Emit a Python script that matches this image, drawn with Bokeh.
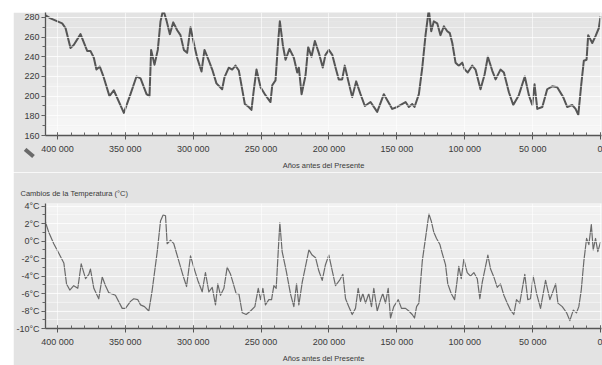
from bokeh.plotting import figure
from bokeh.layouts import column, row
from bokeh.models import Range1d, FixedTicker, BoxAnnotation, Arrow, NormalHead, Title, Spacer
from bokeh.embed import file_html
from bokeh.resources import INLINE

# ---------------- data ----------------
co2_years = [408800, 405100, 396500, 394000, 390400, 388000, 383000, 378100, 375700, 373200,
             371300, 368800, 365900, 361700, 358500, 351100, 346200, 341800, 338800, 334400,
             332200, 331000, 328500, 326100, 324100, 322100, 319700, 317200, 314700, 311800,
             309400, 306900, 304500, 302000, 299600, 297100, 293900, 291700, 288500, 286000,
             282900, 278700, 277000, 273800, 271300, 268900, 266400, 262000, 259100, 257100,
             255400, 253400, 250400, 246800, 243100, 241800, 239400, 237400, 236200, 234000,
             232000, 229100, 225900, 223400, 222200, 220200, 217300, 215300, 212900, 210400,
             207500, 204600, 202600, 200100, 197600, 195200, 192800, 190300, 188400, 185900,
             182900, 180000, 176800, 173600, 169400, 164500, 159600, 153400, 149800, 143600,
             141200, 138700, 137000, 133800, 131300, 128900, 126500, 124700, 122800, 120300,
             117900, 115400, 112900, 111000, 109200, 106800, 104400, 101900, 100000, 97800,
             94500, 92100, 88400, 85400, 83000, 79800, 77300, 73700, 71200, 67500,
             64300, 60200, 55800, 52800, 50300, 48600, 46600, 42900, 39300, 35600,
             31900, 27500, 24600, 20900, 18400, 16400, 14200, 12300, 10300, 9100,
             6100, 3700, 1300, 0]
co2_ppm = [282, 279, 274, 269, 249, 252, 263, 246, 246, 239,
           227, 230, 219, 200, 206, 183, 202, 220, 218, 202,
           200, 247, 232, 247, 276, 288, 277, 263, 275, 267,
           262, 247, 244, 270, 254, 239, 225, 247, 236, 227,
           213, 207, 219, 229, 227, 231, 226, 192, 189, 186,
           206, 227, 209, 201, 194, 211, 216, 256, 276, 252,
           237, 248, 239, 224, 229, 202, 221, 250, 240, 256,
           244, 229, 242, 247, 242, 229, 217, 217, 231, 216,
           199, 215, 202, 190, 194, 184, 202, 187, 189, 194,
           189, 192, 189, 202, 229, 262, 288, 266, 276, 274,
           262, 271, 266, 264, 254, 234, 231, 234, 227, 224,
           231, 227, 207, 222, 240, 226, 217, 227, 224, 204,
           191, 201, 220, 201, 191, 212, 187, 189, 207, 210,
           209, 199, 189, 191, 187, 181, 212, 236, 237, 262,
           254, 261, 269, 281]

temp_years = [408800, 406400, 402700, 399000, 395300, 393300, 390900, 388000, 385000, 382500,
              379300, 376900, 375700, 373200, 369600, 367000, 364600, 362200, 357300, 352300,
              349900, 346200, 343800, 340800, 338800, 335900, 332700, 330200, 326500, 324100,
              322100, 320400, 319200, 316700, 314300, 310600, 307400, 304900, 302000, 299600,
              296600, 293400, 291000, 288500, 286000, 283600, 281900, 279900, 277400, 275000,
              272500, 270800, 268400, 266400, 263900, 261000, 257800, 254600, 252100, 250400,
              248700, 246800, 244300, 242300, 240600, 238900, 237400, 236200, 234500, 231500,
              228400, 225900, 223900, 222200, 219700, 217300, 214800, 212400, 209900, 207500,
              205000, 202600, 200100, 197600, 195200, 192300, 189800, 187800, 185400, 182900,
              180500, 178500, 176800, 175100, 173100, 170700, 168700, 167000, 164500, 162000,
              160400, 158400, 156400, 154700, 152300, 149000, 146600, 143600, 141200, 138700,
              137000, 135500, 133800, 131300, 129600, 127600, 126400, 124700, 122800, 120800,
              118300, 116600, 114200, 112500, 110000, 107500, 105600, 104400, 102600, 100700,
              98200, 95800, 93300, 90800, 88900, 87100, 84700, 83000, 81000, 78600,
              76100, 73700, 71200, 68700, 66300, 63900, 61900, 59500, 55800, 53600,
              51600, 49600, 47100, 44200, 40500, 37300, 35600, 33100, 31400, 28200,
              25000, 22600, 20100, 17700, 16000, 14200, 12300, 10300, 8600, 6800,
              5400, 3700, 2000, 0]
temp_deg = [2.15, 1.0, -0.3, -1.4, -2.5, -4.9, -5.6, -5.1, -5.4, -2.6,
            -4.3, -3.8, -3.2, -5.4, -6.6, -4.1, -5.1, -5.9, -6.2, -7.7,
            -7.7, -6.9, -6.6, -6.7, -7.3, -7.5, -8.0, -5.6, -1.2, 2.3,
            3.0, 2.9, -0.3, 0.1, -0.3, -2.3, -4.0, -5.2, -1.7, -3.0,
            -4.5, -5.8, -3.6, -5.8, -5.3, -7.3, -4.9, -6.2, -5.4, -3.0,
            -3.8, -4.7, -6.0, -6.0, -8.2, -8.4, -8.0, -7.5, -5.4, -6.7,
            -5.4, -7.3, -6.7, -6.7, -5.1, -5.4, -1.2, 2.1, -1.2, -3.4,
            -6.0, -7.5, -4.9, -7.3, -4.7, -2.9, -1.0, -1.6, -1.9, -3.4,
            -4.5, -2.7, -1.6, -3.4, -5.1, -4.5, -3.8, -6.6, -7.5, -8.4,
            -7.7, -5.4, -6.9, -6.0, -7.1, -6.0, -7.5, -5.4, -8.0, -6.7,
            -6.0, -7.1, -5.4, -8.8, -7.5, -6.7, -7.7, -7.7, -8.0, -8.4,
            -8.8, -7.5, -7.1, -2.3, -0.4, 1.8, 3.1, 2.3, 1.0, 0.3,
            -0.4, -1.4, -2.7, -4.9, -6.0, -6.7, -4.5, -2.9, -4.3, -2.1,
            -3.6, -4.0, -3.6, -4.3, -6.6, -4.7, -2.9, -1.6, -3.2, -4.1,
            -5.3, -4.9, -6.2, -7.1, -7.9, -8.4, -6.7, -7.1, -3.8, -6.7,
            -6.6, -4.0, -6.0, -7.7, -4.5, -6.7, -6.0, -4.9, -7.1, -7.5,
            -8.2, -9.1, -7.9, -8.2, -7.5, -5.6, -2.3, 0.3, -0.4, 1.9,
            -1.0, 0.3, -1.2, -0.1]

x_ticks = [400000, 350000, 300000, 250000, 200000, 150000, 100000, 50000, 0]
x_tick_labels = ["400 000", "350 000", "300 000", "250 000", "200 000",
                 "150 000", "100 000", "50 000", "0"]
co2_ticks = [160, 180, 200, 220, 240, 260, 280]
temp_ticks = [-10, -8, -6, -4, -2, 0, 2, 4]
temp_tick_labels = ["-10°C", "-8°C", "-6°C", "-4°C", "-2°C", "0°C", "2°C", "4°C"]
x_title = "Años antes del Presente"
temp_title = "Cambios de la Temperatura (°C)"

# ---------------- styling ----------------
FONT = "Liberation Sans"
PAGE = "#e3e3e3"
LINE = "#555555"
TXT = "#3a3a3a"


def gradient(p, lo, hi, top_col, bot_col, n=14):
    step = (hi - lo) / n
    def mix(a, b, t):
        return "#%02x%02x%02x" % tuple(int(round(a + (b - a) * t)) for _ in range(3))
    for i in range(n):
        t = (i + 0.5) / n
        col = mix(top_col, bot_col, t)
        b = BoxAnnotation(top=hi - i * step, bottom=hi - (i + 1) * step,
                          fill_color=col, fill_alpha=1.0, line_alpha=0, level="underlay")
        p.add_layout(b)


def style(p, yticks, yminor, ylabels=None):
    p.xaxis.ticker = FixedTicker(ticks=x_ticks,
                                 minor_ticks=list(range(0, 410001, 10000)))
    p.xaxis.major_label_overrides = dict(zip(x_ticks, x_tick_labels))
    p.yaxis.ticker = FixedTicker(ticks=yticks, minor_ticks=yminor)
    if ylabels:
        p.yaxis.major_label_overrides = dict(zip(yticks, ylabels))
    for ax in (p.xaxis[0], p.yaxis[0]):
        ax.axis_line_color = "#555555"
        ax.axis_line_width = 1.3
        ax.major_tick_line_color = "#555555"
        ax.minor_tick_line_color = "#666666"
        ax.major_label_text_font = FONT
        ax.major_label_text_color = TXT
        ax.major_label_text_font_size = "9px"
    p.xaxis.major_tick_in = 3
    p.xaxis.major_tick_out = 4
    p.xaxis.minor_tick_in = 3
    p.xaxis.minor_tick_out = 0
    p.xaxis.major_label_standoff = 4
    p.yaxis.major_tick_in = 0
    p.yaxis.major_tick_out = 4
    p.yaxis.minor_tick_in = 0
    p.yaxis.minor_tick_out = 3
    p.yaxis.major_label_standoff = 2
    p.xaxis.axis_label = x_title
    p.xaxis.axis_label_text_font = FONT
    p.xaxis.axis_label_text_font_size = "7.5px"
    p.xaxis.axis_label_text_font_style = "normal"
    p.xaxis.axis_label_text_color = TXT
    p.xaxis.axis_label_standoff = 4
    p.xgrid.ticker = FixedTicker(ticks=x_ticks)
    p.xgrid.grid_line_color = "#ffffff"
    p.xgrid.grid_line_alpha = 0.6
    p.ygrid.grid_line_color = "#ffffff"
    p.ygrid.grid_line_alpha = 0.6
    p.ygrid.minor_grid_line_color = "#ffffff"
    p.ygrid.minor_grid_line_alpha = 0.45
    p.xgrid.level = "glyph"
    p.ygrid.level = "glyph"


# ---------------- top: CO2 ----------------
p1 = figure(width=589, height=160, output_backend="svg", toolbar_location=None,
            x_range=Range1d(408800, -700), y_range=Range1d(160, 285),
            min_border_left=32, min_border_right=1, min_border_top=0, min_border_bottom=35,
            background_fill_color="#eeeeee", border_fill_color=PAGE,
            outline_line_color=None)
gradient(p1, 160, 285, 0xe2, 0xf7)
style(p1, co2_ticks, list(range(160, 286, 10)))
p1.line(co2_years, co2_ppm, line_color=LINE, line_width=2.0, line_join="round")

# decorative arrow in the left margin (shaft and head drawn separately)
shaft = Arrow(end=None, x_start=-31, y_start=-5, x_end=-17, y_end=-17,
              start_units="screen", end_units="screen",
              line_color="#6a6a6a", line_width=4)
head = Arrow(end=NormalHead(size=11, fill_color="#6a6a6a", line_color="#6a6a6a"),
             x_start=-25, y_start=-10, x_end=-12, y_end=-21,
             start_units="screen", end_units="screen",
             line_color="#6a6a6a", line_width=4)
p1.add_layout(shaft)
p1.add_layout(head)

# ---------------- bottom: temperature ----------------
p2 = figure(width=589, height=193, output_backend="svg", toolbar_location=None,
            x_range=Range1d(408800, -700), y_range=Range1d(-10, 4.3),
            min_border_left=32, min_border_right=1, min_border_top=31, min_border_bottom=34,
            background_fill_color="#eeeeee", border_fill_color=PAGE,
            outline_line_color=None)
gradient(p2, -10, 4.3, 0xf2, 0xe4)
style(p2, temp_ticks, list(range(-10, 5, 1)), temp_tick_labels)
p2.add_layout(Title(text=temp_title, text_font=FONT, text_font_size="7.5px",
                    text_font_style="normal", text_color=TXT, offset=-25,
                    standoff=11), "above")
p2.line(temp_years, temp_deg, line_color="#6a6a6a", line_width=1.2, line_join="round")

layout = row(Spacer(width=13, height=365), column(Spacer(width=589, height=12), p1, p2, spacing=0),
             spacing=0)

open("out.html", "w").write(file_html(layout, INLINE))
